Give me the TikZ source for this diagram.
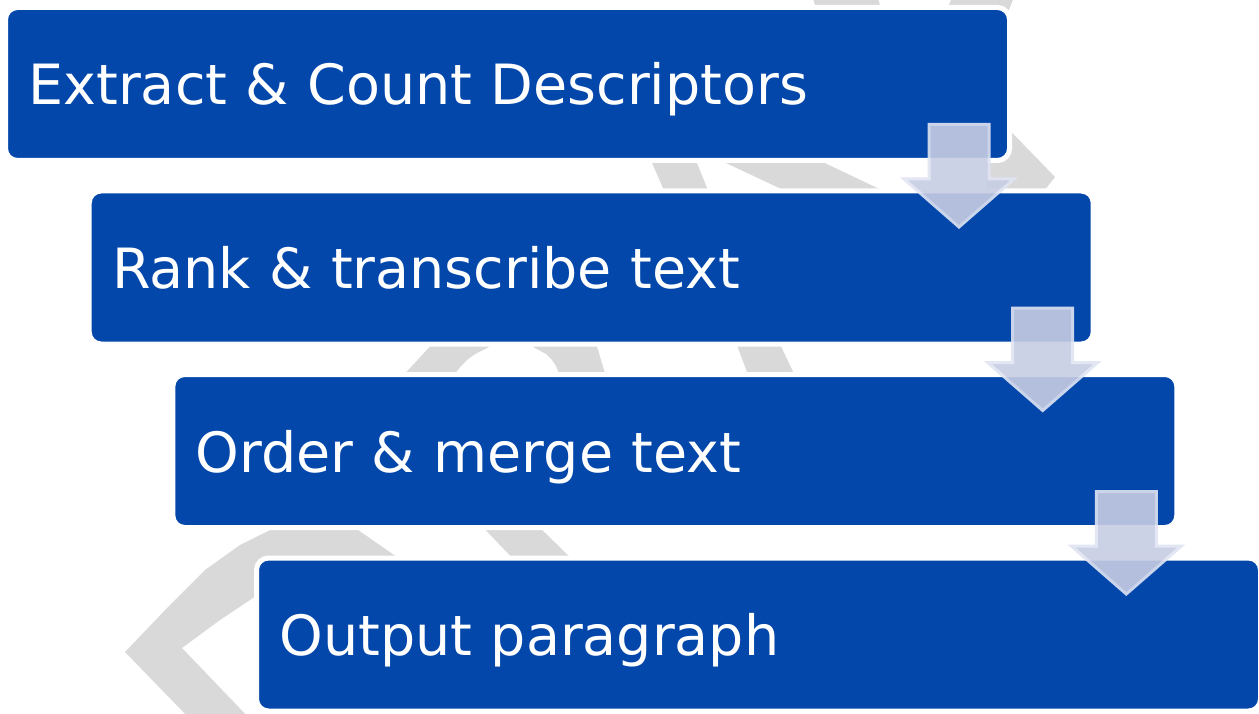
\documentclass[tikz,border=0pt]{standalone}
\usepackage{fontspec}
\setmainfont{DejaVu Sans}
\usetikzlibrary{calc}
\definecolor{boxblue}{RGB}{3,71,171}
\definecolor{ribbon}{RGB}{217,217,217}
\definecolor{arrfill}{RGB}{199,205,227}
\definecolor{arrline}{RGB}{224,228,242}
\tikzset{
  stepbox/.style={draw=white, line width=5pt, fill=boxblue, rounded corners=12pt,
    minimum width=1004pt, minimum height=153pt, text width=958pt,
    inner xsep=23pt, inner ysep=0pt, outer sep=0pt, align=left,
    text height=42pt, text depth=0pt, text=white,
    font=\fontsize{55.5}{60}\selectfont},
  ribbonpiece/.style={fill=ribbon},
  downarr/.pic={
    \begin{scope}[transparency group, opacity=0.9]
      \draw[fill=arrfill, draw=arrline, line width=3pt, line join=miter]
        (-30,1.5) -- (30,1.5) -- (30,56) -- (55,56) -- (0,104) -- (-55,56) -- (-30,56) -- cycle;
    \end{scope}
  }
}
\begin{document}
\begin{tikzpicture}[x=1pt,y=-1pt]
\useasboundingbox (0,0) rectangle (1259,714);
% background ribbon pieces
\fill[ribbonpiece] (812,-5) -- (877,-5) -- (882,12) -- (817,12) -- cycle;
\fill[ribbonpiece] (953,-5) -- (1015,-5) -- (1008,12) -- (946,12) -- cycle;
\fill[ribbonpiece] (649,156) -- (694,156) -- (710,195) -- (666,195) -- cycle;
\fill[ribbonpiece] (711,156) -- (810,156) -- (892,195) -- (794,195) -- cycle;
\fill[ribbonpiece] (990,110) -- (1055,177) -- (1040,196) -- (987,196) -- (987,110) -- cycle;
\fill[ribbonpiece] (436,340) -- (500,340) -- (487,348) -- (475,354) -- (467,360) -- (461,366) -- (457,371) -- (451,380) -- (399,380) -- cycle;
\fill[ribbonpiece] (522,340) -- (595,340) -- (607,380) -- (563,380) -- (558,371) -- (556,366) -- (552,360) -- (546,354) -- (535,348) -- cycle;
\fill[ribbonpiece] (735,340) -- (778,340) -- (797,380) -- (750,380) -- cycle;
\fill[ribbonpiece] (479,523) -- (535,523) -- (577,564) -- (518,564) -- cycle;
\fill[ribbonpiece] (284,523) -- (348,523) -- (430,580) -- (262,580) -- (256,596) -- (220,620) -- (182,648)
  -- (251,720) -- (191,720) -- (125,652) -- (170,605) -- (205,570) -- (240,545) -- (268,531) -- cycle;
% process boxes
\node[stepbox] (b1) at (507.5,84) {Extract \& Count Descriptors};
\node[stepbox] (b2) at (591.2,267.5) {Rank \& transcribe text};
\node[stepbox] (b3) at (674.8,451) {Order \& merge text};
\node[stepbox] (b4) at (758.5,634.5) {Output paragraph};
% down arrows
\pic at ($(b1.south east)+(-50.5,-37.5)$) {downarr};
\pic at ($(b2.south east)+(-50.5,-37.5)$) {downarr};
\pic at ($(b3.south east)+(-50.5,-37.5)$) {downarr};
\end{tikzpicture}
\end{document}
